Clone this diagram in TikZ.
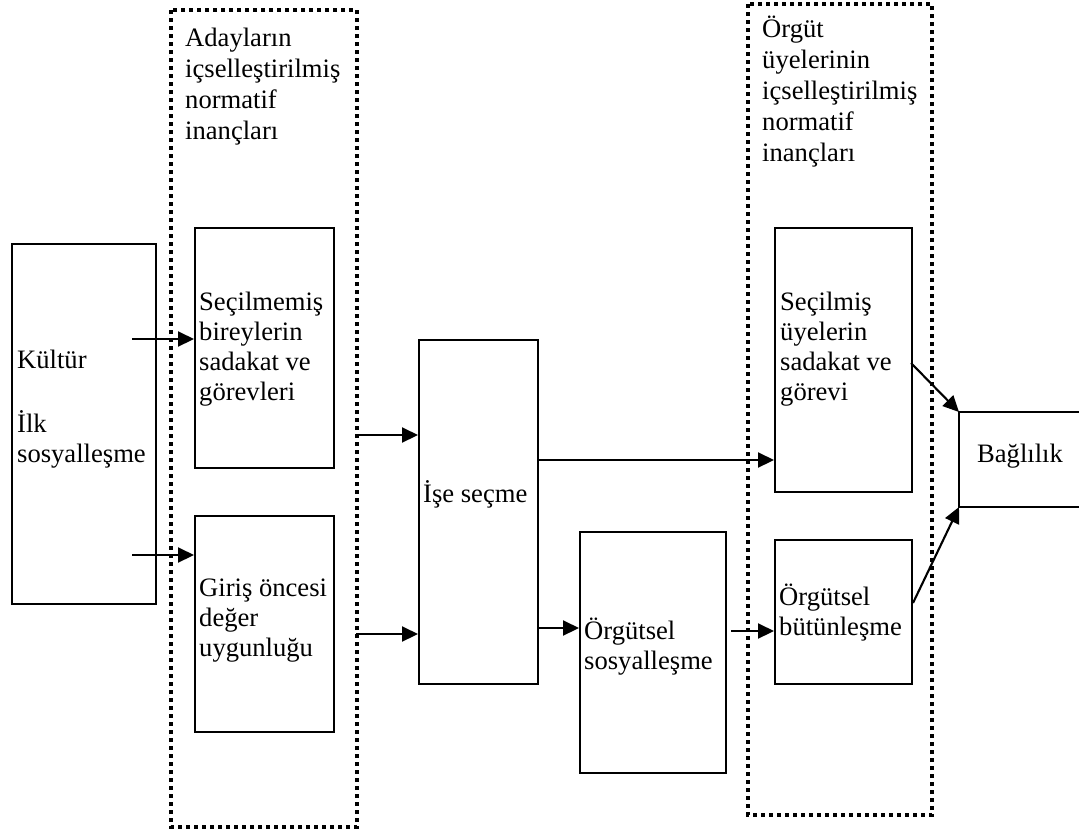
\documentclass[tikz,border=0pt]{standalone}
\usepackage{fontspec}
\setmainfont{Liberation Serif}
\usetikzlibrary{arrows.meta,calc}
\begin{document}
\begin{tikzpicture}[x=1pt,y=-1pt,
  box/.style={draw,line width=1.8pt,inner sep=0pt,anchor=north west},
  lbl/.style={inner sep=0pt,align=left,anchor=west,
    font=\fontsize{26.6}{30}\selectfont},
  ttl/.style={inner sep=0pt,align=left,anchor=north west,
    font=\fontsize{26.6}{31}\selectfont},
  dotbox/.style={line width=3.8pt,dash pattern=on 3.8pt off 4.2pt},
  arr/.style={line width=2.1pt,-{Triangle[length=16pt,width=15pt]}}]
\useasboundingbox (0,0) rectangle (1079,831);

% dotted groupings
\draw[dotbox] (171,10) rectangle (357,827);
\draw[dotbox] (748,4) rectangle (932,815);
\node[ttl] (tA) at (185,28) {Adayların\\içselleştirilmiş\\normatif\\inançları};
\node[ttl] (tB) at (762,16) {Örgüt\\üyelerinin\\içselleştirilmiş\\normatif\\inançları};

% boxes
\node[box,minimum width=144pt,minimum height=360pt] (kul) at (11,243) {};
\node[box,minimum width=139pt,minimum height=240pt] (unsel) at (194,227) {};
\node[box,minimum width=139pt,minimum height=216pt] (giris) at (194,515) {};
\node[box,minimum width=119pt,minimum height=344pt] (ise) at (418,339) {};
\node[box,minimum width=146pt,minimum height=241pt] (sos) at (579,531) {};
\node[box,minimum width=137pt,minimum height=264pt] (sel) at (774,227) {};
\node[box,minimum width=137pt,minimum height=144pt] (but) at (774,539) {};

% labels
\node[lbl] (lkul) at (17,409) {Kültür\\[34pt]İlk\\sosyalleşme};
\node[lbl] (lunsel) at (199,349) {Seçilmemiş\\bireylerin\\sadakat ve\\görevleri};
\node[lbl] (lgiris) at (199,621) {Giriş öncesi\\değer\\uygunluğu};
\node[lbl] (lise) at (423,494) {İşe seçme};
\node[lbl] (lsos) at (584,647) {Örgütsel\\sosyalleşme};
\node[lbl] (lsel) at (780,349) {Seçilmiş\\üyelerin\\sadakat ve\\görevi};
\node[lbl] (lbut) at (779,613) {Örgütsel\\bütünleşme};

% open box on the right edge
\coordinate (bagNW) at (959,412);
\coordinate (bagSW) at (959,507);
\draw[line width=1.8pt] (1080,412) -- (bagNW) -- (bagSW) -- (1080,507);
\node[lbl,anchor=center] (bag) at (1020,456) {Bağlılık};

% connectors
\coordinate (k1) at (132,339);
\coordinate (k2) at (132,555);
\draw[arr] (k1) -- (k1 -| unsel.west);
\draw[arr] (k2) -- (k2 -| giris.west);
\coordinate (a1) at (356,435);
\coordinate (a2) at (356,634);
\draw[arr] (a1) -- (a1 -| ise.west);
\draw[arr] (a2) -- (a2 -| ise.west);
\coordinate (b1) at (537,460);
\coordinate (b2) at (537,628);
\draw[arr] (b1) -- (b1 -| sel.west);
\draw[arr] (b2) -- (b2 -| sos.west);
\coordinate (c1) at (731,631);
\draw[arr] (c1) -- (c1 -| but.west);
\coordinate (d1) at (911,363);
\coordinate (d2) at (913,603);
\draw[arr] (d1) -- (bagNW);
\draw[arr] (d2) -- (bagSW);
\end{tikzpicture}
\end{document}
